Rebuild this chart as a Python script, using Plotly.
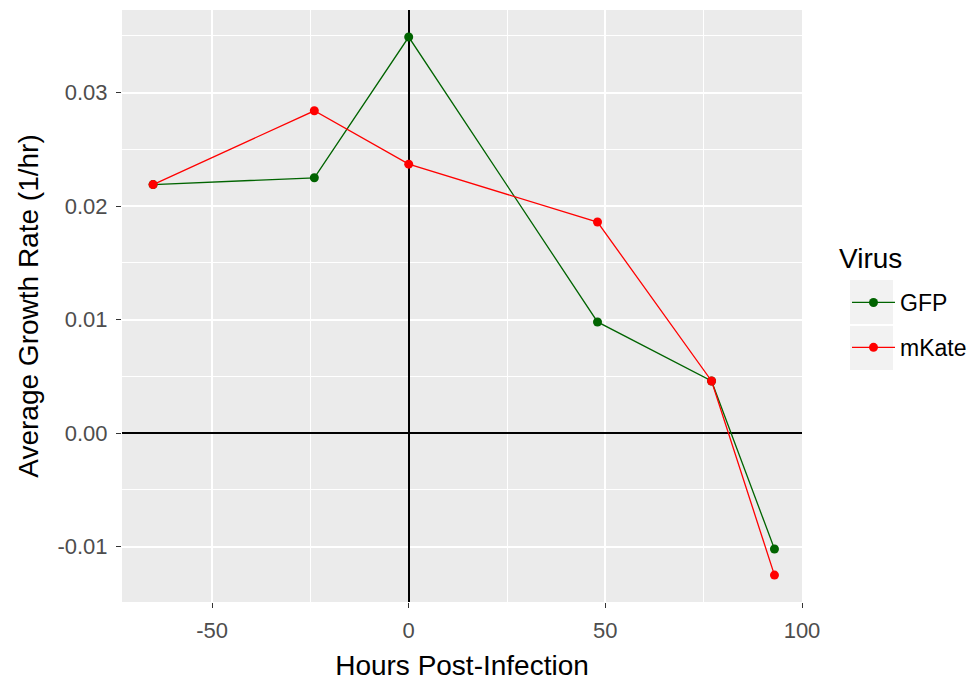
import plotly.graph_objects as go

hours = [-65, -24, 0, 48, 77, 93]
gfp = [0.0219, 0.0225, 0.0349, 0.0098, 0.0046, -0.0102]
mkate = [0.0219, 0.0284, 0.0237, 0.0186, 0.0046, -0.0125]
x_ticks = [-50, 0, 50, 100]
x_tick_labels = ["-50", "0", "50", "100"]
y_ticks = [-0.01, 0.0, 0.01, 0.02, 0.03]
y_tick_labels = ["-0.01", "0.00", "0.01", "0.02", "0.03"]

FONT = "Liberation Sans, Arial, sans-serif"

fig = go.Figure()
fig.add_trace(go.Scatter(x=hours, y=gfp, mode="lines+markers", name="GFP",
                         legendgroup="g1",
                         line=dict(color="#006400", width=1.3),
                         marker=dict(color="#006400", size=9)))
fig.add_trace(go.Scatter(x=hours, y=mkate, mode="lines+markers", name="mKate",
                         legendgroup="g2",
                         line=dict(color="#FF0000", width=1.3),
                         marker=dict(color="#FF0000", size=9)))

# legend key backgrounds (ggplot style)
for top, bot in [(280, 324), (326, 370)]:
    fig.add_shape(type="rect", xref="paper", yref="paper",
                  x0=(850 - 122) / 680, x1=(893 - 122) / 680,
                  y0=(602 - bot) / 592, y1=(602 - top) / 592,
                  fillcolor="#F2F2F2", line=dict(width=0), layer="below")

fig.add_annotation(text="Virus", xref="paper", yref="paper",
                   x=(837 - 122) / 680, y=(602 - 258) / 592,
                   xanchor="left", yanchor="middle", showarrow=False,
                   font=dict(size=28, color="#000"))

fig.update_layout(
    width=972, height=683,
    margin=dict(l=122, r=170, t=10, b=81, autoexpand=False),
    paper_bgcolor="white", plot_bgcolor="#EBEBEB",
    font=dict(family=FONT, color="#000000"),
    legend=dict(font=dict(size=23, color="#000"),
                x=(847 - 122) / 680, y=(602 - 281) / 592, xanchor="left", yanchor="top",
                bgcolor="rgba(0,0,0,0)", tracegroupgap=12, itemwidth=43),
    showlegend=True,
)
fig.update_xaxes(range=[-72.9, 100.0], tickvals=x_ticks, ticktext=x_tick_labels,
                 showgrid=True, gridcolor="white", gridwidth=1.6,
                 minor=dict(tickvals=[-75, -25, 25, 75], showgrid=True, gridcolor="white", gridwidth=0.8),
                 zeroline=True, zerolinecolor="black", zerolinewidth=1.5,
                 ticks="outside", ticklen=5, tickcolor="#333333", tickwidth=1.2,
                 ticklabelstandoff=4,
                 tickfont=dict(size=22, color="#4D4D4D"),
                 title=dict(text="Hours Post-Infection", font=dict(size=28, color="#000"), standoff=12),
                 showline=False)
fig.update_yaxes(range=[-0.01487, 0.03728], tickvals=y_ticks, ticktext=y_tick_labels,
                 showgrid=True, gridcolor="white", gridwidth=1.6,
                 minor=dict(tickvals=[-0.015, -0.005, 0.005, 0.015, 0.025, 0.035], showgrid=True, gridcolor="white", gridwidth=0.8),
                 zeroline=True, zerolinecolor="black", zerolinewidth=1.5,
                 ticks="outside", ticklen=5, tickcolor="#333333", tickwidth=1.2,
                 ticklabelstandoff=4,
                 tickfont=dict(size=22, color="#4D4D4D"),
                 title=dict(text="Average Growth Rate (1/hr)", font=dict(size=28, color="#000"), standoff=10),
                 showline=False)

fig.write_html("out.html")
